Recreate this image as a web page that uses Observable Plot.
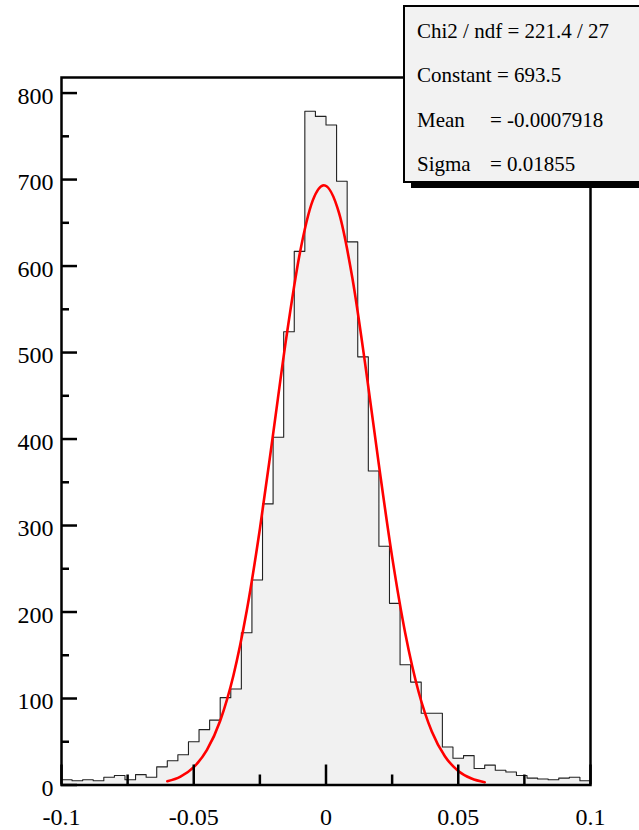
<!DOCTYPE html>
<html><head><meta charset="utf-8">
<script src="https://cdn.jsdelivr.net/npm/d3@7"></script>
<script src="https://cdn.jsdelivr.net/npm/@observablehq/plot@0.6"></script>
<style>html,body{margin:0;padding:0;background:#fff;} svg{display:block;}</style>
</head><body><div id="chart"></div>
<script>
// Histogram: 50 bins from -0.1 to 0.1
const binStart = -0.1;
const binWidth = 0.004;
const counts = [6,5,6,5,9,11,6,12,9,21,28,35,50,64,75,101,111,176,237,325,402,524,617,779,773,763,698,628,495,363,276,210,139,119,83,83,44,31,34,19,23,17,15,11,8,7,6,8,9,5];
// Gaussian fit curve
const fitX = [-0.060,-0.055,-0.050,-0.045,-0.040,-0.035,-0.030,-0.025,-0.020,-0.015,-0.010,-0.005,-0.0008,0.005,0.010,0.015,0.020,0.025,0.030,0.035,0.040,0.045,0.050,0.055,0.060];
const fitY = [4.3,9.7,20.6,40.5,74.3,126.6,200.8,296.0,405.7,517.2,613.1,675.9,693.5,660.5,585.5,482.7,370.1,263.8,174.9,107.8,61.8,32.9,16.3,7.5,3.2];
// Axes
const xMajorTicks = [-0.1,-0.05,0,0.05,0.1];
const xTickText = ["-0.1","-0.05","0","0.05","0.1"];
const xMinorTicks = [-0.075,-0.025,0.025,0.075];
const yMajorTicks = [0,100,200,300,400,500,600,700,800];
const yMinorTicks = [50,150,250,350,450,550,650,750];
// Stats box
const statsNames = ["Chi2 / ndf = 221.4 / 27","Constant = 693.5","Mean","Sigma"];
const statsValues = ["","","= -0.0007918","= 0.01855"];

const W = 639, H = 830, mL = 61, mR = 49, mT = 77, mB = 45.5;
const xDom = [-0.1, 0.1], yDom = [0, 818];
const pxX = (W - mL - mR) / (xDom[1] - xDom[0]);
const pxY = (H - mT - mB) / (yDom[1] - yDom[0]);

const bins = counts.map((c, i) => ({x1: binStart + i*binWidth, x2: binStart + (i+1)*binWidth, c}));
const stepPts = bins.map(b => ({x: b.x1, y: b.c}));
stepPts.push({x: bins[bins.length-1].x2, y: counts[counts.length-1]});
const fit = fitX.map((x, i) => ({x, y: fitY[i]}));

const font = "Liberation Serif, Times New Roman, serif";
const plot = Plot.plot({
  width: W, height: H,
  marginLeft: mL, marginRight: mR, marginTop: mT, marginBottom: mB,
  x: {domain: xDom, axis: null},
  y: {domain: yDom, axis: null},
  style: {fontFamily: font, background: "white", overflow: "visible"},
  marks: [
    Plot.areaY(stepPts, {x: "x", y: "y", curve: "step-after", fill: "#f1f1f1"}),
    Plot.line(stepPts, {x: "x", y: "y", curve: "step-after", stroke: "#222", strokeWidth: 1.1}),
    Plot.line(fit, {x: "x", y: "y", curve: "monotone-x", stroke: "#ff0000", strokeWidth: 2.6}),
    Plot.ruleX(xMajorTicks, {x: d => d, y1: 0, y2: 20/pxY, stroke: "black", strokeWidth: 2.5}),
    Plot.ruleX(xMinorTicks, {x: d => d, y1: 0, y2: 10/pxY, stroke: "black", strokeWidth: 2.5}),
    Plot.ruleY(yMajorTicks, {y: d => d, x1: xDom[0], x2: xDom[0] + 16/pxX, stroke: "black", strokeWidth: 2.5}),
    Plot.ruleY(yMinorTicks, {y: d => d, x1: xDom[0], x2: xDom[0] + 8/pxX, stroke: "black", strokeWidth: 2.5}),
    Plot.frame({stroke: "black", strokeWidth: 2.5}),
    Plot.text(xMajorTicks, {x: d => d, y: 0, text: (d, i) => xTickText[i], dy: 32, fontSize: 24, fill: "black", textAnchor: "middle"}),
    Plot.text(yMajorTicks, {x: xDom[0], y: d => d, text: d => String(d), dx: -8, dy: 3, fontSize: 24, fill: "black", textAnchor: "end"})
  ]
});
document.getElementById("chart").appendChild(plot);

// stats box overlay
const svg = d3.select(plot);
const g = svg.append("g").attr("text-anchor", "start");
g.append("rect").attr("x", 411).attr("y", 11).attr("width", 240).attr("height", 177).attr("fill", "black");
g.append("rect").attr("x", 404).attr("y", 6).attr("width", 245).attr("height", 176)
  .attr("fill", "#f2f2f2").attr("stroke", "black").attr("stroke-width", 2);
statsNames.forEach((t, i) => {
  g.append("text").attr("x", 417).attr("y", 38 + i*44.3).attr("text-anchor", "start").attr("font-family", font).attr("font-size", 21).attr("fill", "black").text(t);
  if (statsValues[i]) g.append("text").attr("x", 490).attr("y", 38 + i*44.3).attr("text-anchor", "start").attr("font-family", font).attr("font-size", 21).attr("fill", "black").text(statsValues[i]);
});
</script>
</body></html>
